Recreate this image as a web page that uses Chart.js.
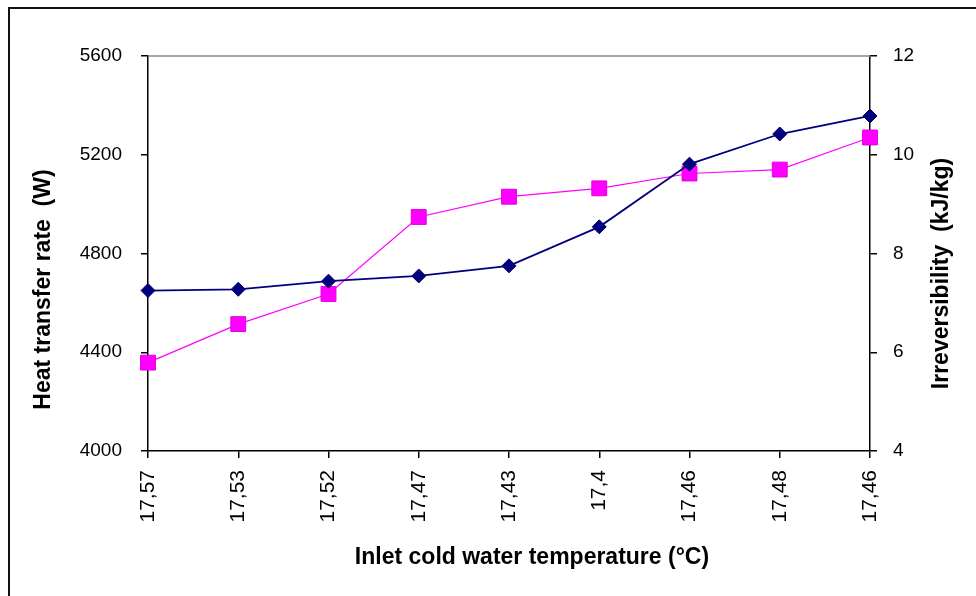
<!DOCTYPE html>
<html>
<head>
<meta charset="utf-8">
<style>
  html, body { margin: 0; padding: 0; background: #fff; }
  #wrap { position: relative; width: 976px; height: 596px; overflow: hidden; }
  #chart { position: absolute; left: 0; top: 0; }
  #frame { position: absolute; left: 8px; top: 7px; width: 1200px; height: 900px;
           border-left: 2px solid #111; border-top: 2px solid #111; pointer-events: none; }
</style>
<script src="https://cdn.jsdelivr.net/npm/chart.js@4/dist/chart.umd.min.js"></script>
</head>
<body>
<div id="wrap">
  <canvas id="chart" width="976" height="596"></canvas>
  <div id="frame"></div>
</div>
<script>
// Inlet cold water temperature for each test run (°C)
const inletTemps = ['17,57', '17,53', '17,52', '17,47', '17,43', '17,4', '17,46', '17,48', '17,46'];
// Heat transfer rate (W), left axis
const heatTransferRate = [4650, 4655, 4688, 4709, 4750, 4908, 5162, 5284, 5357];
// Irreversibility (kJ/kg), right axis
const irreversibility = [5.79, 6.57, 7.18, 8.74, 9.15, 9.32, 9.62, 9.70, 10.35];
// Axis ranges
const heatAxis = { min: 4000, max: 5600, step: 400 };
const irrevAxis = { min: 4, max: 12, step: 2 };
// Axis titles
const heatTitle = 'Heat transfer rate  (W)';
const irrevTitle = 'Irreversibility  (kJ/kg)';
const tempTitle = 'Inlet cold water temperature (°C)';

const FONT = '"Liberation Sans", Arial, sans-serif';

// Thin grey line closing the top of the plot area
const topEdge = {
  id: 'topEdge',
  afterDatasetsDraw(chart) {
    const { ctx, chartArea: a } = chart;
    ctx.save();
    ctx.strokeStyle = '#8a8a8a';
    ctx.lineWidth = 1.5;
    ctx.beginPath();
    ctx.moveTo(a.left, a.top);
    ctx.lineTo(a.right, a.top);
    ctx.stroke();
    ctx.restore();
  }
};

// Axis titles: the two vertical ones read bottom-to-top, all sit slightly off-centre
const axisTitles = {
  id: 'axisTitles',
  afterDraw(chart) {
    const { ctx, chartArea: a } = chart;
    const midX = (a.left + a.right) / 2;
    const midY = (a.top + a.bottom) / 2;
    const items = [
      { text: heatTitle, x: a.left - 104, y: midY + 36, rot: -Math.PI / 2 },
      { text: irrevTitle, x: a.right + 72, y: midY + 20, rot: -Math.PI / 2 },
      { text: tempTitle, x: midX + 23, y: a.bottom + 107, rot: 0 }
    ];
    ctx.save();
    ctx.fillStyle = '#000';
    ctx.font = 'bold 23px ' + FONT;
    ctx.textAlign = 'center';
    ctx.textBaseline = 'middle';
    for (const it of items) {
      ctx.save();
      ctx.translate(it.x, it.y);
      ctx.rotate(it.rot);
      ctx.fillText(it.text, 0, 0);
      ctx.restore();
    }
    ctx.restore();
  }
};

const axisGrid = {
  display: true,
  drawOnChartArea: false,
  drawTicks: true,
  tickLength: 7,
  color: '#000',
  lineWidth: 1.5
};

new Chart(document.getElementById('chart'), {
  type: 'line',
  data: {
    labels: inletTemps,
    datasets: [
      {
        label: heatTitle,
        data: heatTransferRate,
        yAxisID: 'yHeat',
        borderColor: '#000080',
        backgroundColor: '#000080',
        borderWidth: 1.8,
        pointStyle: 'rectRot',
        pointRadius: 7,
        pointBorderWidth: 1,
        pointBorderColor: '#000060',
        tension: 0
      },
      {
        label: irrevTitle,
        data: irreversibility,
        yAxisID: 'yIrrev',
        borderColor: '#ff00ff',
        backgroundColor: '#ff00ff',
        borderWidth: 1.2,
        pointStyle: 'rect',
        pointRadius: 10.5,
        pointBorderWidth: 1,
        pointBorderColor: '#e000e0',
        tension: 0
      }
    ]
  },
  options: {
    responsive: false,
    animation: false,
    layout: { padding: { left: 0, right: 0, top: 56, bottom: 0 } },
    plugins: { legend: { display: false }, tooltip: { enabled: false } },
    scales: {
      x: {
        type: 'category',
        offset: false,
        grid: axisGrid,
        border: { display: true, color: '#000', width: 1.5 },
        ticks: {
          color: '#000',
          font: { family: FONT, size: 21 },
          minRotation: 90,
          maxRotation: 90,
          padding: 12,
          autoSkip: false
        },
        afterFit(scale) { scale.height = 145; }
      },
      yHeat: {
        position: 'left',
        min: heatAxis.min,
        max: heatAxis.max,
        grid: axisGrid,
        border: { display: true, color: '#000', width: 1.5 },
        ticks: {
          stepSize: heatAxis.step,
          color: '#000',
          font: { family: FONT, size: 19 },
          padding: 19,
          callback: (v) => String(v)
        },
        afterFit(scale) { scale.width = 148; }
      },
      yIrrev: {
        position: 'right',
        min: irrevAxis.min,
        max: irrevAxis.max,
        grid: axisGrid,
        border: { display: true, color: '#000', width: 1.5 },
        ticks: {
          stepSize: irrevAxis.step,
          color: '#000',
          font: { family: FONT, size: 19 },
          padding: 16,
          callback: (v) => String(v)
        },
        afterFit(scale) { scale.width = 106; }
      }
    }
  },
  plugins: [topEdge, axisTitles]
});
</script>
</body>
</html>
